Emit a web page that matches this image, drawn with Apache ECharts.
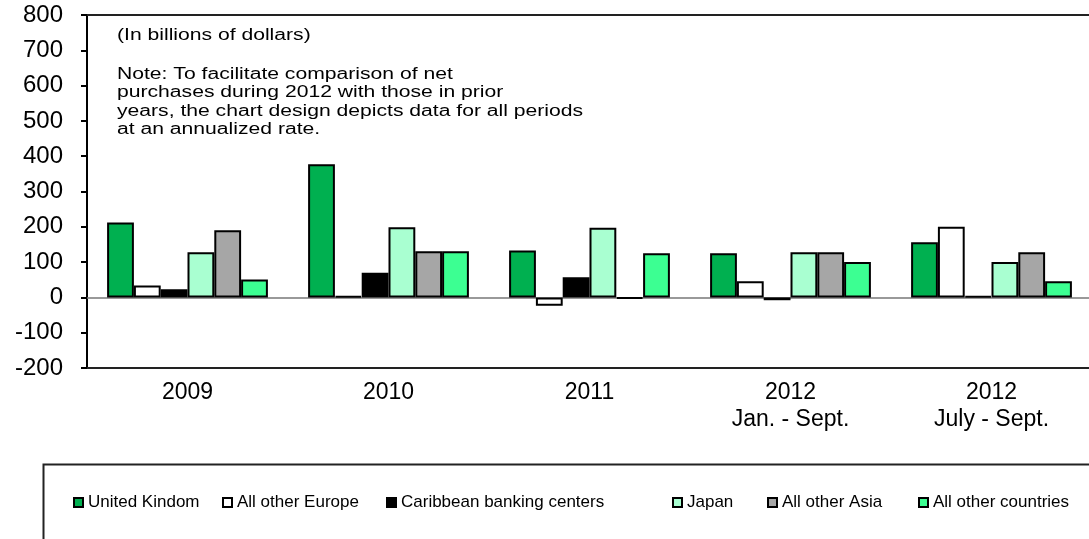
<!DOCTYPE html>
<html>
<head>
<meta charset="utf-8">
<script src="https://cdn.jsdelivr.net/npm/echarts@6/dist/echarts.min.js"></script>
<style>html,body{margin:0;padding:0;background:#fff;}#c{width:1089px;height:539px;}</style>
</head>
<body>
<div id="c"></div>
<script>
const categories = ['2009', '2010', '2011', '2012\nJan. - Sept.', '2012\nJuly - Sept.'];
const seriesNames = ['United Kindom', 'All other Europe', 'Caribbean banking centers', 'Japan', 'All other Asia', 'All other countries'];
const unitedKingdom = [212, 377, 133, 125, 156];
const otherEurope = [34, 3, -24, 46, 200];
const caribbean = [23, 70, 57, -8, 3];
const japan = [128, 199, 197, 128, 100];
const otherAsia = [190, 131, -3, 128, 128];
const otherCountries = [51, 131, 125, 100, 46];
const yTicks = { min: -200, max: 800, interval: 100 };

const colors = ['#00B050', '#FFFFFF', '#000000', '#A9FFD1', '#A6A6A6', '#3CFF92'];
const values = [unitedKingdom, otherEurope, caribbean, japan, otherAsia, otherCountries];
const FONT = '"Liberation Sans", Arial, sans-serif';

const series = seriesNames.map((name, i) => {
  const s = {
    name: name,
    type: 'bar',
    data: values[i],
    barGap: '0%',
    barCategoryGap: '20%',
    itemStyle: { color: colors[i], borderColor: '#000', borderWidth: 2 },
    emphasis: { disabled: true }
  };
  if (i === 0) {
    s.markLine = {
      silent: true,
      symbol: 'none',
      label: { show: false },
      lineStyle: { color: '#777', width: 1.5, type: 'solid' },
      data: [{ yAxis: 0 }],
      z: 1
    };
  }
  return s;
});

const legendLefts = [73, 222, 386, 672, 767, 918];
const legends = seriesNames.map((name, i) => ({
  data: [name],
  left: legendLefts[i],
  top: 494,
  padding: 0,
  itemWidth: 9,
  itemHeight: 9,
  itemGap: 4,
  icon: 'rect',
  textStyle: { fontSize: 17, color: '#000', fontFamily: FONT },
  selectedMode: false
}));

const chart = echarts.init(document.getElementById('c'), null, { renderer: 'canvas' });
chart.setOption({
  animation: false,
  backgroundColor: '#fff',
  grid: { left: 87, top: 15, width: 1005, height: 353, outerBoundsMode: 'none', containLabel: false },
  xAxis: [
    {
      type: 'category',
      data: categories,
      position: 'bottom',
      axisLine: { onZero: false, lineStyle: { color: '#222', width: 2 } },
      axisTick: { show: false },
      axisLabel: { color: '#000', fontSize: 23, fontFamily: FONT, margin: 11, lineHeight: 27, interval: 0 },
      splitLine: { show: false }
    },
    {
      type: 'category',
      data: categories,
      position: 'top',
      axisLine: { onZero: false, lineStyle: { color: '#222', width: 2 } },
      axisTick: { show: false },
      axisLabel: { show: false },
      splitLine: { show: false }
    }
  ],
  yAxis: {
    type: 'value',
    min: yTicks.min,
    max: yTicks.max,
    interval: yTicks.interval,
    axisLine: { show: true, lineStyle: { color: '#000', width: 2 } },
    axisTick: { show: true, inside: false, length: 6, lineStyle: { color: '#000', width: 2 } },
    axisLabel: { color: '#000', fontSize: 24, fontFamily: FONT, margin: 24 },
    splitLine: { show: false }
  },
  legend: legends,
  series: series,
  graphic: [
    {
      type: 'rect',
      left: 41, top: 462,
      shape: { width: 1100, height: 120 },
      style: { fill: 'none', stroke: '#222', lineWidth: 2 },
      silent: true
    },
    {
      type: 'text',
      left: 117, top: 28,
      style: { text: '(In billions of dollars)', fontSize: 16, fontFamily: FONT, fill: '#000' },
      scaleX: 1.32
    },
    {
      type: 'text',
      left: 117, top: 65,
      style: {
        text: 'Note: To facilitate comparison of net\npurchases during 2012 with those in prior\nyears, the chart design depicts data for all periods\nat an annualized rate.',
        fontSize: 16, lineHeight: 18.5, fontFamily: FONT, fill: '#000'
      },
      scaleX: 1.32
    }
  ]
});
</script>
</body>
</html>
